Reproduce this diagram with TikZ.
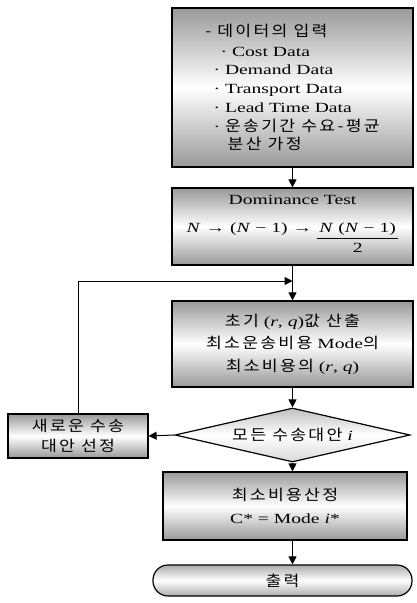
\documentclass[tikz,border=0pt]{standalone}
\usepackage{fontspec}
\setmainfont{Liberation Serif}[FakeStretch=1.4]
\newfontfamily\kr[Scale=1.07, FakeStretch=1.15, LetterSpace=15]{Noto Sans CJK KR}
\usetikzlibrary{shapes.geometric,arrows.meta}
\tikzset{
  shadebox/.style={draw=black, line width=1.2pt, rectangle, inner sep=0pt,
    top color=gray!80, bottom color=gray!80, middle color=white,
    font=\fontsize{14}{18.7}\selectfont},
  decision/.style={draw=black, line width=1.2pt, diamond, inner sep=0pt,
    top color=gray!50, bottom color=gray!30, middle color=white,
    font=\fontsize{14}{18.7}\selectfont},
  terminal/.style={draw=black, line width=1.2pt, rectangle, rounded corners=15pt, inner sep=0pt,
    top color=gray!65, bottom color=gray!65, middle color=white,
    font=\fontsize{14}{18.7}\selectfont},
  arr/.style={line width=1pt, -{Triangle[length=8pt,width=8pt]}}
}
\begin{document}
\begin{tikzpicture}[x=1pt,y=-1pt]
\useasboundingbox (0,0) rectangle (416,603);
% top box
\node[shadebox, minimum width=241pt, minimum height=159pt, align=left] (b1) at (292.5,87.5)
 {{\kr - 데이터의 입력}\\[1pt]
  \hspace{1.1em}· Cost Data\\
  \hspace{0.6em}· Demand Data\\
  \hspace{0.6em}· Transport Data\\
  \hspace{0.6em}· Lead Time Data\\
  \hspace{0.6em}· {\kr 운송기간 수요-평균}\\
  \hspace{1.6em}{\kr 분산 가정}};
% dominance test
\node[shadebox, minimum width=241pt, minimum height=77pt, align=center] (b2) at (292.5,226.5)
 {Dominance Test\\[9pt]
  \renewcommand{\arraystretch}{1.05}%
  \textit{N} → (\textit{N} − 1) → \begin{tabular}[t]{@{\,}c@{\,}}\textit{N} (\textit{N} − 1)\\\hline 2\end{tabular}};
% initial r,q
\node[shadebox, minimum width=241pt, minimum height=86pt, align=center] (b3) at (292.5,344)
 {{\kr 초기} (\textit{r}, \textit{q}){\kr 값 산출}\\[4pt]
  {\kr 최소운송비용} Mode{\kr 의}\\[4pt]
  {\kr 최소비용의} (\textit{r}, \textit{q})};
% decision
\node[decision, minimum width=235pt, minimum height=54pt, aspect=4.35] (dia) at (292.5,435)
 {{\kr 모든 수송대안} \textit{i}};
% left box
\node[shadebox, minimum width=140pt, minimum height=44pt, align=center] (lb) at (78,436)
 {{\kr 새로운 수송}\\[1pt]{\kr 대안 선정}};
% min cost
\node[shadebox, minimum width=244pt, minimum height=68pt, align=center] (b5) at (285,506)
 {{\kr 최소비용산정}\\[4pt]
  C* = Mode \textit{i}*};
% output
\node[terminal, minimum width=259pt, minimum height=31pt] (out) at (282.5,580.5)
 {{\kr 출력}};
% connectors
\coordinate (fb) at (292.5,281);
\draw[arr] (b1.south) -- (b2.north);
\draw[arr] (b2.south) -- (b3.north);
\draw[arr] (b3.south) -- (dia.north);
\draw[arr] (dia.south) -- (dia.south |- b5.north);
\draw[arr] (dia.south |- b5.south) -- (dia.south |- out.north);
\draw[arr] (dia.west) -- (lb.east);
\draw[arr] (lb.north) |- (fb);
\end{tikzpicture}
\end{document}
